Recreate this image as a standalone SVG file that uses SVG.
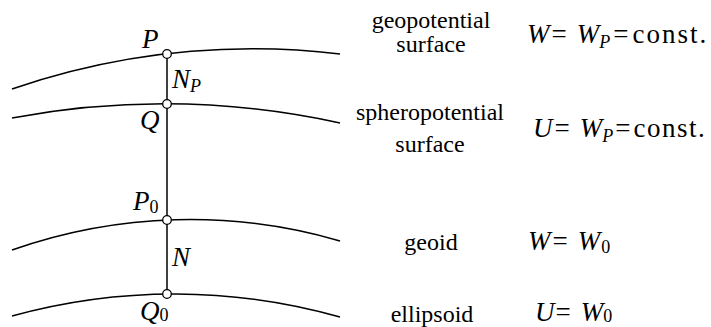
<svg xmlns="http://www.w3.org/2000/svg" width="711" height="327" viewBox="0 0 711 327">
<style>
.curve{fill:none;stroke:#000;stroke-width:1.5}
.pt{fill:#fff;stroke:#000;stroke-width:1.3}
text{font-family:"Liberation Serif","Tinos","Times New Roman","Noto Serif","DejaVu Serif",serif;font-size:24px;fill:#000}
.it{font-style:italic}
.m{font-size:27px}
.sub{font-size:18px}
.lbl{text-anchor:middle}
</style>
<rect width="711" height="327" fill="#fff"/>
<g id="surfaces">
<path id="geopotential-curve" class="curve" d="M12,89 A748.8,748.8 0 0 1 340,54"/>
<path id="spheropotential-curve" class="curve" d="M12,118 A827.8,827.8 0 0 1 340,123"/>
<path id="geoid-curve" class="curve" d="M12,250 A534.5,534.5 0 0 1 340,241"/>
<path id="ellipsoid-curve" class="curve" d="M12,316 A608,608 0 0 1 340,317"/>
</g>
<g id="connectors">
<line class="curve" x1="167" y1="54" x2="167" y2="294"/>
</g>
<g id="node-P">
<circle class="pt" cx="167" cy="54" r="4.3"/>
<text class="it m" x="142" y="48">P</text>
</g>
<g id="node-Q">
<circle class="pt" cx="167" cy="104" r="4.3"/>
<text class="it m" x="140" y="129">Q</text>
</g>
<g id="node-P0">
<circle class="pt" cx="167" cy="220" r="4.3"/>
<text class="m" x="133" y="210"><tspan class="it">P</tspan><tspan class="sub" dy="3">0</tspan></text>
</g>
<g id="node-Q0">
<circle class="pt" cx="167" cy="294" r="4.3"/>
<text class="m" x="140" y="320"><tspan class="it">Q</tspan><tspan class="sub" dy="1">0</tspan></text>
</g>
<g id="label-NP">
<text class="m" x="172" y="88"><tspan class="it">N</tspan><tspan class="it sub" dy="4">P</tspan></text>
</g>
<g id="label-N">
<text class="it m" x="172" y="266">N</text>
</g>
<g id="row-geopotential">
<text class="lbl" x="431" y="28">geopotential</text>
<text class="lbl" x="431" y="52">surface</text>
<text class="m" x="527" y="43"><tspan class="it">W</tspan><tspan dx="2">=</tspan><tspan class="it" dx="10">W</tspan><tspan class="it sub" dy="5">P</tspan><tspan dy="-5" dx="3">=</tspan><tspan dx="4" letter-spacing="2">const.</tspan></text>
</g>
<g id="row-spheropotential">
<text class="lbl" x="430" y="120">spheropotential</text>
<text class="lbl" x="430" y="152">surface</text>
<text class="m" x="533" y="137"><tspan class="it">U</tspan><tspan dx="2">=</tspan><tspan class="it" dx="10">W</tspan><tspan class="it sub" dy="5">P</tspan><tspan dy="-5" dx="2">=</tspan><tspan dx="3" letter-spacing="1.5">const.</tspan></text>
</g>
<g id="row-geoid">
<text class="lbl" x="431" y="250">geoid</text>
<text class="m" x="528" y="250"><tspan class="it">W</tspan><tspan dx="2">=</tspan><tspan class="it" dx="10">W</tspan><tspan class="sub" dy="3" dx="1">0</tspan></text>
</g>
<g id="row-ellipsoid">
<text class="lbl" x="432" y="322">ellipsoid</text>
<text class="m" x="535" y="321"><tspan class="it">U</tspan><tspan dx="1">=</tspan><tspan class="it" dx="10">W</tspan><tspan class="sub" dy="1">0</tspan></text>
</g>
</svg>
